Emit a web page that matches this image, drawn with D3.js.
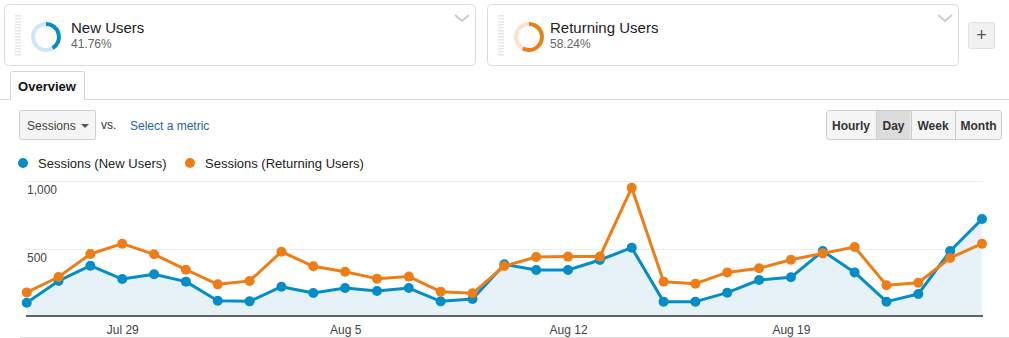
<!DOCTYPE html>
<html><head><meta charset="utf-8">
<script src="https://cdn.jsdelivr.net/npm/d3@7"></script>
<style>
body{margin:0;background:#fff;font-family:Arial,"Liberation Sans",sans-serif;}
svg{display:block;}
</style></head>
<body>
<svg id="c" width="1009" height="338"></svg>
<script>
const dates = ["Jul 26","Jul 27","Jul 28","Jul 29","Jul 30","Jul 31","Aug 1","Aug 2","Aug 3","Aug 4","Aug 5","Aug 6","Aug 7","Aug 8","Aug 9","Aug 10","Aug 11","Aug 12","Aug 13","Aug 14","Aug 15","Aug 16","Aug 17","Aug 18","Aug 19","Aug 20","Aug 21","Aug 22","Aug 23","Aug 24","Aug 25"];
const newUsers = [105,265,377,279,314,260,120,115,223,176,213,191,213,115,132,387,346,346,419,510,113,113,179,272,292,485,328,113,169,485,720];
const returningUsers = [181,294,463,539,461,348,240,265,480,373,333,282,297,186,174,375,441,444,444,951,260,245,328,358,421,468,515,233,252,434,539];
const xTickLabels = ["Jul 29","Aug 5","Aug 12","Aug 19"];
const yTicks = [500,1000];
const segments = [{name:"New Users", pct:41.76}, {name:"Returning Users", pct:58.24}];
const seriesNames = ["Sessions (New Users)","Sessions (Returning Users)"];
const periodButtons = ["Hourly","Day","Week","Month"];

const BLUE="#058dc7", ORANGE="#ed7e17";
const svg = d3.select("#c");

// ---- Segment cards ----
const cardX=[4,487], cardW=471;
const cardCols=[[BLUE,"#cde6f3"],[ORANGE,"#fbe2cc"]];
segments.forEach((s,i)=>{
  const g = svg.append("g").attr("transform",`translate(${cardX[i]},4)`);
  g.append("rect").attr("x",0.5).attr("y",0.5).attr("width",cardW).attr("height",61).attr("rx",4)
    .attr("fill","#fff").attr("stroke","#dcdcdc");
  for(let k=0;k<14;k++) g.append("rect").attr("x",11).attr("y",11+k*3).attr("width",6).attr("height",1.5).attr("fill","#e6e6e6");
  const arc = d3.arc().innerRadius(11).outerRadius(15);
  const pie = d3.pie().sort(null).value(d=>d)([s.pct,100-s.pct]);
  const dg = g.append("g").attr("transform","translate(42,33)");
  dg.selectAll("path").data(pie).join("path").attr("d",arc).attr("fill",(d,j)=>cardCols[i][j]);
  g.append("text").attr("x",i?63:67).attr("y",29).attr("font-size",15).attr("fill","#222").text(s.name);
  g.append("text").attr("x",i?63:67).attr("y",44).attr("font-size",12).attr("fill","#666").text(s.pct.toFixed(2)+"%");
  g.append("path").attr("d",`M${cardW-20},11 l7,6 l7,-6`).attr("fill","none").attr("stroke","#ccc").attr("stroke-width",2);
});
// plus button
svg.append("rect").attr("x",968.5).attr("y",22.5).attr("width",26).attr("height",26).attr("rx",2).attr("fill","#f1f1f1").attr("stroke","#e0e0e0");
svg.append("text").attr("x",981.5).attr("y",41).attr("text-anchor","middle").attr("font-size",18).attr("fill","#555").text("+");

// ---- Tab ----
svg.append("line").attr("x1",0).attr("x2",1009).attr("y1",99.5).attr("y2",99.5).attr("stroke","#d5d5d5");
svg.append("path").attr("d","M10.5,100 V73.5 Q10.5,71.5 12.5,71.5 H82.5 Q84.5,71.5 84.5,73.5 V100").attr("fill","#fff").attr("stroke","#d5d5d5");
svg.append("rect").attr("x",11).attr("y",98).attr("width",73).attr("height",3).attr("fill","#fff");
svg.append("text").attr("x",47).attr("y",91).attr("text-anchor","middle").attr("font-size",13).attr("font-weight","bold").attr("fill","#111").text("Overview");

// ---- Controls ----
svg.append("rect").attr("x",19.5).attr("y",110.5).attr("width",76).attr("height",29).attr("rx",2).attr("fill","#f5f5f5").attr("stroke","#cfcfcf");
svg.append("text").attr("x",27).attr("y",130).attr("font-size",12).attr("fill","#444").text("Sessions");
svg.append("path").attr("d","M81,124 h8 l-4,4 z").attr("fill","#555");
svg.append("text").attr("x",101).attr("y",129).attr("font-size",12).attr("fill","#333").text("vs.");
svg.append("text").attr("x",130).attr("y",130).attr("font-size",12).attr("fill","#1e64a9").text("Select a metric");

const bx=[826,876,911,955,1002];
svg.append("rect").attr("x",826.5).attr("y",110.5).attr("width",175).attr("height",29).attr("rx",3).attr("fill","#f5f5f5").attr("stroke","#cccccc");
periodButtons.forEach((b,i)=>{
  if(b==="Day") svg.append("rect").attr("x",bx[i]+0.5).attr("y",111).attr("width",bx[i+1]-bx[i]-1).attr("height",28).attr("fill","#dcdcdc");
  if(i>0) svg.append("line").attr("x1",bx[i]+0.5).attr("x2",bx[i]+0.5).attr("y1",111).attr("y2",139).attr("stroke","#cccccc");
  svg.append("text").attr("x",(bx[i]+bx[i+1])/2).attr("y",130).attr("text-anchor","middle").attr("font-size",12).attr("font-weight","bold").attr("fill","#333").text(b);
});

// ---- Legend ----
const legX=[23,190];
seriesNames.forEach((n,i)=>{
  svg.append("circle").attr("cx",legX[i]).attr("cy",163).attr("r",5).attr("fill",i?ORANGE:BLUE);
  svg.append("text").attr("x",legX[i]+15).attr("y",168).attr("font-size",13).attr("fill","#222").text(n);
});

// ---- Chart ----
const x = d3.scalePoint().domain(dates).range([26.7,982]);
const y = d3.scaleLinear().domain([0,1000]).range([317,181]);

svg.selectAll(".grid").data(yTicks).join("line").attr("class","grid")
  .attr("x1",26).attr("x2",983).attr("y1",d=>Math.round(y(d))+0.5).attr("y2",d=>Math.round(y(d))+0.5).attr("stroke","#ececec");
svg.selectAll(".ylab").data(yTicks).join("text").attr("class","ylab")
  .attr("x",27).attr("y",d=>y(d)+13).attr("font-size",12).attr("fill","#444").text(d=>d3.format(",")(d));

const area = d3.area().x((d,i)=>x(dates[i])).y0(y(0)).y1(d=>y(d));
svg.append("path").datum(newUsers).attr("d",area).attr("fill","#e6f1f8");

const line = d3.line().x((d,i)=>x(dates[i])).y(d=>y(d));
[[newUsers,BLUE],[returningUsers,ORANGE]].forEach(([data,col])=>{
  svg.append("path").datum(data).attr("d",line).attr("fill","none").attr("stroke",col).attr("stroke-width",3).attr("stroke-linejoin","round");
  svg.append("g").selectAll("circle").data(data).join("circle")
    .attr("cx",(d,i)=>x(dates[i])).attr("cy",d=>y(d)).attr("r",5).attr("fill",col);
});

// x axis
const xAxis = d3.axisBottom(x).tickValues(xTickLabels).tickSize(0).tickPadding(9);
const ax = svg.append("g").attr("transform","translate(0,316)").call(xAxis);
ax.select(".domain").remove();
ax.selectAll("text").attr("font-size",12).attr("fill","#444").attr("font-family","Arial,'Liberation Sans',sans-serif");
svg.append("line").attr("x1",26).attr("x2",983).attr("y1",316).attr("y2",316).attr("stroke","#333").attr("stroke-width",1.5);
svg.append("line").attr("x1",20).attr("x2",1009).attr("y1",337.5).attr("y2",337.5).attr("stroke","#d8d8d8");
</script>
</body></html>
